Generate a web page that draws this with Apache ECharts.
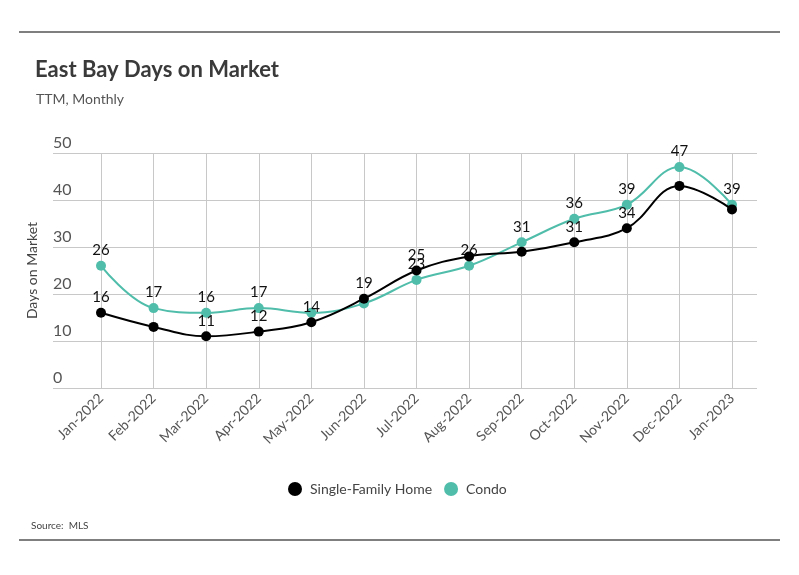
<!DOCTYPE html>
<html><head><meta charset="utf-8">
<script src="https://cdn.jsdelivr.net/npm/echarts@6/dist/echarts.min.js"></script>
<style>html,body{margin:0;padding:0;background:#fff}#c{width:799px;height:575px}</style>
</head><body><div id="c"></div>
<script>
const categories = ['Jan-2022','Feb-2022','Mar-2022','Apr-2022','May-2022','Jun-2022','Jul-2022','Aug-2022','Sep-2022','Oct-2022','Nov-2022','Dec-2022','Jan-2023'];
const singleFamily = [16, 13, 11, 12, 14, 19, 25, 28, 29, 31, 34, 43, 38];
const condo = [26, 17, 16, 17, 16, 18, 23, 26, 31, 36, 39, 47, 39];
const yTicks = [0, 10, 20, 30, 40, 50];
// indices whose value labels are not shown in the reference
const sfHiddenLabels = [1, 7, 8, 11, 12];
const condoHiddenLabels = [4, 5];

const FONT = 'Lato, "Noto Sans", sans-serif';
const SF_COLOR = '#000000';
const CONDO_COLOR = '#4fbdaa';

function mk(values, hidden) {
  return values.map((v, i) => hidden.includes(i) ? {value: v, label: {show: false}} : v);
}

const chart = echarts.init(document.getElementById('c'));
chart.setOption({
  animation: false,
  textStyle: {fontFamily: FONT},
  title: [
    {text: 'East Bay Days on Market', left: 30, top: 54,
     textStyle: {fontFamily: FONT, fontSize: 22, fontWeight: 'bold', color: '#3a3a3a'}},
    {text: 'TTM, Monthly', left: 31, top: 87,
     textStyle: {fontFamily: FONT, fontSize: 14, fontWeight: 'normal', color: '#555'}},
    {text: 'Source:  MLS', left: 26, top: 516,
     textStyle: {fontFamily: FONT, fontSize: 10, fontWeight: 'normal', color: '#444'}}
  ],
  graphic: [
    {type: 'line', shape: {x1: 19, y1: 32, x2: 780, y2: 32}, style: {stroke: '#000', lineWidth: 1.2}},
    {type: 'line', shape: {x1: 19, y1: 540, x2: 780, y2: 540}, style: {stroke: '#000', lineWidth: 1.2}}
  ],
  legend: {
    bottom: 74, left: 283, itemWidth: 14, itemHeight: 14, itemGap: 12,
    icon: 'circle',
    textStyle: {fontFamily: FONT, fontSize: 14, color: '#444', padding: [0, 0, 0, 3]},
    data: ['Single-Family Home', 'Condo']
  },
  grid: [
    {left: 53, right: 42, top: 153, bottom: 187},
    {left: 101, right: 67, top: 153, bottom: 187}
  ],
  xAxis: [
    {type: 'value', gridIndex: 0, show: false, min: 0, max: 1},
    {type: 'category', gridIndex: 1, data: categories, boundaryGap: false,
     axisLine: {show: false}, axisTick: {show: false},
     splitLine: {show: true, lineStyle: {color: '#c8c8c8', width: 1}},
     axisLabel: {rotate: 45, color: '#555', fontSize: 14, fontFamily: FONT, margin: 8, interval: 0}}
  ],
  yAxis: [
    {type: 'value', gridIndex: 0, min: yTicks[0], max: yTicks[yTicks.length - 1], interval: 10,
     axisLine: {show: false}, axisTick: {show: false},
     splitLine: {show: true, lineStyle: {color: '#c8c8c8', width: 1}},
     axisLabel: {inside: true, margin: 0, align: 'left', verticalAlign: 'bottom', padding: [0,0,2,0],
                 color: '#555', fontSize: 16, fontFamily: FONT},
     name: 'Days on Market', nameLocation: 'middle', nameRotate: 90, nameGap: 14,
     nameTextStyle: {color: '#444', fontSize: 14, fontFamily: FONT}},
    {type: 'value', gridIndex: 1, min: 0, max: 50, show: false}
  ],
  series: [
    {name: 'Single-Family Home', type: 'line', xAxisIndex: 1, yAxisIndex: 1,
     data: mk(singleFamily, sfHiddenLabels), smooth: 0.4,
     symbol: 'circle', symbolSize: 10, z: 3,
     itemStyle: {color: SF_COLOR}, lineStyle: {color: SF_COLOR, width: 2},
     label: {show: true, position: 'top', distance: 3, color: '#111', fontSize: 15, fontFamily: FONT}},
    {name: 'Condo', type: 'line', xAxisIndex: 1, yAxisIndex: 1,
     data: mk(condo, condoHiddenLabels), smooth: 0.4,
     symbol: 'circle', symbolSize: 10, z: 2,
     itemStyle: {color: CONDO_COLOR}, lineStyle: {color: CONDO_COLOR, width: 2},
     label: {show: true, position: 'top', distance: 3, color: '#111', fontSize: 15, fontFamily: FONT}}
  ]
});
</script></body></html>
